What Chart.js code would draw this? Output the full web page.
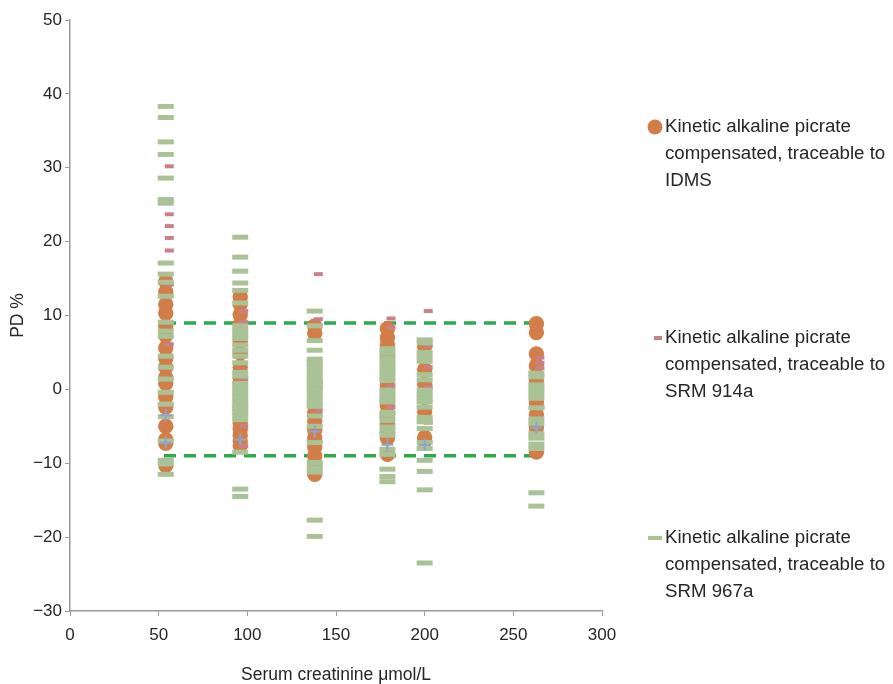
<!DOCTYPE html>
<html>
<head>
<meta charset="utf-8">
<script src="https://cdn.jsdelivr.net/npm/chart.js@4.4.1/dist/chart.umd.min.js"></script>
<style>
  html, body { margin: 0; padding: 0; background: #fff; }
  #wrap { width: 893px; height: 684px; }
</style>
</head>
<body>
<div id="wrap"><canvas id="chart" width="893" height="684"></canvas></div>
<script>
// creatinine concentrations of the samples
var idmsConc = [54, 96, 138, 179, 200, 263];
var srm914aConc = [56, 98, 140, 181, 202, 265];
var srm967aConc = [54, 96, 138, 179, 200, 263];

// PD % per sample, one list per concentration
var idmsValues = [
    [14.6, 13.2, 11.5, 10.3, 8.6, 7.3, 5.6, 4.2, 3.0, 1.6, 0.8, -1.0, -2.4, -5.0, -6.8, -7.3, -10.3],
    [12.5, 11.5, 10.1, 8.8, 6.5, 4.9, 3.0, 1.5, 0.9, -0.7, -2.7, -4.6, -5.4, -6.2, -7.0, -7.6],
    [8.6, 7.6, 0.9, 0.3, -3.2, -4.3, -5.5, -6.6, -7.8, -9.0, -10.3, -11.5],
    [8.2, 7.0, 6.0, 4.6, 0.5, -2.2, -3.7, -4.7, -6.6, -8.8],
    [5.8, 2.7, 0.7, -3.0, -6.5, -7.0],
    [8.9, 7.7, 4.8, 3.2, 1.2, -1.8, -3.4, -5.2, -8.5]
];
var srm914aValues = [
    [30.2, 23.7, 22.1, 20.5, 18.8, 14.2, 6.1],
    [10.6, 9.1, 1.5, -5.0, -7.7],
    [15.6, 9.5, 0.9, 0.3, -2.8],
    [9.6, 8.4, 0.4, -2.4],
    [10.6, 5.9, 3.0, 0.3, -4.5],
    [4.3, 3.6, 2.9, -2.4]
];
var srm967aValues = [
    [38.3, 36.8, 33.5, 31.8, 28.6, 25.7, 25.2, 17.1, 15.6, 14.5, 12.6, 9.1, 7.9, 7.2, 4.5, 3.0, 1.4, -0.4, -2.0, -3.7, -7.0, -9.6, -10.1, -11.5],
    [20.6, 17.9, 16.0, 14.4, 13.4, 11.7, 8.6, 8.0, 7.4, 6.9, 6.0, 5.3, 4.5, 3.6, 2.3, 1.8, 0.8, 0.2, -0.4, -1.0, -1.6, -2.2, -2.6, -3.1, -3.6, -4.1, -8.5, -13.5, -14.5],
    [10.6, 8.6, 6.6, 5.3, 4.1, 3.6, 3.0, 2.4, 1.8, 1.2, 0.6, 0.0, -0.6, -1.2, -1.8, -2.3, -3.6, -5.0, -7.2, -9.9, -10.6, -11.2, -17.7, -19.9],
    [5.5, 4.9, 4.2, 3.6, 3.0, 2.4, 1.8, 1.2, -0.1, -0.7, -1.3, -1.7, -3.1, -3.5, -4.2, -5.1, -5.7, -6.2, -8.1, -8.8, -10.8, -11.8, -12.5],
    [6.7, 6.3, 5.0, 4.4, 3.8, 2.0, 1.3, -0.1, -0.7, -1.3, -1.7, -2.4, -3.8, -4.4, -5.3, -7.2, -8.0, -9.6, -11.1, -13.6, -23.5],
    [2.2, 1.7, 0.6, 0.0, -0.6, -1.2, -2.5, -4.0, -4.6, -6.0, -6.6, -7.4, -8.0, -14.0, -15.8]
];

// blue crosses
var crossX = [54, 54, 96, 138, 179, 200, 263];
var crossY = [-3.5, -7.2, -6.8, -5.7, -7.5, -7.5, -5.2];

// acceptance limits
var limitRange = [53, 262];
var limitUpper = 9;
var limitLower = -9;

var xTicks = [0, 50, 100, 150, 200, 250, 300];
var yMin = -30, yMax = 50;

var labels = [
    'Kinetic alkaline picrate compensated, traceable to IDMS',
    'Kinetic alkaline picrate compensated, traceable to SRM 914a',
    'Kinetic alkaline picrate compensated, traceable to SRM 967a'
];

var FONT = "'Liberation Sans', Arial, Helvetica, sans-serif";

function toPoints(conc, values) {
    var pts = [];
    for (var i = 0; i < conc.length; i++) {
        values[i].forEach(function (v) { pts.push({x: conc[i], y: v}); });
    }
    return pts;
}

function limitLine(y) {
    return [{x: limitRange[0], y: y}, {x: limitRange[1], y: y}];
}

// legend drawn on the right, text wrapped
var sideLegend = {
    id: 'sideLegend',
    afterDraw: function (chart) {
        var ctx = chart.ctx;
        var rows = [127, 338, 538];
        ctx.save();
        ctx.font = '18.7px ' + FONT;
        ctx.textBaseline = 'middle';
        for (var i = 0; i < 3; i++) {
            var ds = chart.data.datasets[i];
            var y = rows[i];
            if (i === 0) {
                ctx.beginPath();
                ctx.fillStyle = ds.backgroundColor;
                ctx.arc(655, y, 7.5, 0, Math.PI * 2);
                ctx.fill();
            } else {
                ctx.fillStyle = ds.borderColor;
                var w = i === 1 ? 8 : 14;
                ctx.fillRect(662 - w, y - 2, w, 4);
            }
            // wrap
            var words = ds.label.split(' ');
            var lines = [], line = '';
            words.forEach(function (wd) {
                var test = line ? line + ' ' + wd : wd;
                if (ctx.measureText(test).width > 235 && line) {
                    lines.push(line);
                    line = wd;
                } else {
                    line = test;
                }
            });
            lines.push(line);
            ctx.fillStyle = '#262626';
            lines.forEach(function (l, k) {
                ctx.fillText(l, 665, y + k * 27);
            });
        }
        ctx.restore();
    }
};

var ctx = document.getElementById('chart');
var chart = new Chart(ctx, {
    type: 'scatter',
    data: {
        datasets: [{
            label: labels[0],
            data: toPoints(idmsConc, idmsValues),
            pointStyle: 'circle',
            pointRadius: 7.7,
            backgroundColor: '#D37E48',
            borderColor: '#D37E48',
            borderWidth: 0,
            order: 4
        }, {
            label: labels[1],
            data: toPoints(srm914aConc, srm914aValues),
            pointStyle: 'line',
            pointRadius: 4.5,
            borderWidth: 4,
            borderColor: '#C98088',
            backgroundColor: '#C98088',
            order: 3
        }, {
            label: labels[2],
            data: toPoints(srm967aConc, srm967aValues),
            pointStyle: 'line',
            pointRadius: 8,
            borderWidth: 5,
            borderColor: '#A9C296',
            backgroundColor: '#A9C296',
            order: 2
        }, {
            label: 'mean',
            data: crossX.map(function (x, i) { return {x: x, y: crossY[i]}; }),
            pointStyle: 'cross',
            pointRadius: 6,
            borderWidth: 2,
            borderColor: '#8EA5CF',
            order: 1
        }, {
            type: 'line',
            label: 'upper',
            data: limitLine(limitUpper),
            borderColor: '#2EAA4C',
            borderWidth: 3.5,
            borderDash: [12, 8],
            pointRadius: 0,
            fill: false,
            order: 5
        }, {
            type: 'line',
            label: 'lower',
            data: limitLine(limitLower),
            borderColor: '#2EAA4C',
            borderWidth: 3.5,
            borderDash: [12, 8],
            pointRadius: 0,
            fill: false,
            order: 5
        }]
    },
    options: {
        responsive: false,
        animation: false,
        layout: { padding: { top: 20, right: 291, left: 0, bottom: 0 } },
        plugins: {
            legend: { display: false },
            tooltip: { enabled: false }
        },
        scales: {
            x: {
                type: 'linear',
                min: 0,
                max: 300,
                afterBuildTicks: function (axis) {
                    axis.ticks = xTicks.map(function (v) { return {value: v}; });
                },
                afterFit: function (axis) { axis.height = 73; },
                grid: { drawOnChartArea: false, drawTicks: true, tickLength: 5, color: '#9a9a9a' },
                border: { color: '#9a9a9a', width: 1.5 },
                ticks: { color: '#262626', font: { size: 17, family: FONT }, padding: 9 },
                title: {
                    display: true,
                    text: 'Serum creatinine μmol/L',
                    color: '#262626',
                    font: { size: 17.5, family: FONT },
                    padding: { top: 0, bottom: -2 }
                }
            },
            y: {
                min: yMin,
                max: yMax,
                afterFit: function (axis) { axis.width = 70; },
                grid: { drawOnChartArea: false, drawTicks: true, tickLength: 5, color: '#9a9a9a' },
                border: { color: '#9a9a9a', width: 1.5 },
                ticks: {
                    stepSize: 10,
                    color: '#262626',
                    font: { size: 17, family: FONT },
                    padding: 3,
                    callback: function (v) { return String(v).replace('-', '\u2212'); }
                },
                title: {
                    display: true,
                    text: 'PD %',
                    color: '#262626',
                    font: { size: 17.5, family: FONT },
                    padding: { top: 8, bottom: 0 }
                }
            }
        }
    },
    plugins: [sideLegend]
});
</script>
</body>
</html>
